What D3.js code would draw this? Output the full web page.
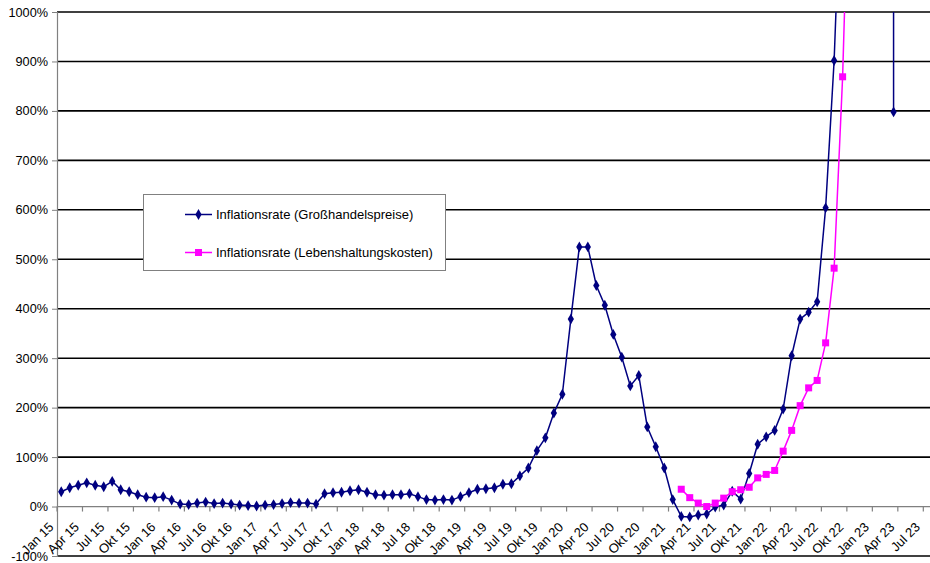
<!DOCTYPE html>
<html>
<head>
<meta charset="utf-8">
<script src="https://cdn.jsdelivr.net/npm/d3@7/dist/d3.min.js"></script>
<style>
  html, body { margin: 0; padding: 0; background: #fff; }
  svg { display: block; font-family: "Liberation Sans", Arial, sans-serif; }
</style>
</head>
<body>
<svg id="chart" width="930" height="563"></svg>
<script>
// ---- data ----
const years = ["15", "16", "17", "18", "19", "20", "21", "22", "23"];
const monthNames = ["Jan", "Feb", "Mär", "Apr", "Mai", "Jun", "Jul", "Aug", "Sep", "Okt", "Nov", "Dez"];
const lastMonthIndex = 6; // axis runs to Jul 23

const tickLabels = [
  "Jan 15", "Apr 15", "Jul 15", "Okt 15", "Jan 16", "Apr 16", "Jul 16", "Okt 16",
  "Jan 17", "Apr 17", "Jul 17", "Okt 17", "Jan 18", "Apr 18", "Jul 18", "Okt 18",
  "Jan 19", "Apr 19", "Jul 19", "Okt 19", "Jan 20", "Apr 20", "Jul 20", "Okt 20",
  "Jan 21", "Apr 21", "Jul 21", "Okt 21", "Jan 22", "Apr 22", "Jul 22", "Okt 22",
  "Jan 23", "Apr 23", "Jul 23"
];

const yTicks = [-100, 0, 100, 200, 300, 400, 500, 600, 700, 800, 900, 1000];

// Inflationsrate (Großhandelspreise), % – from Jan 15
const wholesale = [
  30, 38, 43, 48, 43, 40, 51, 34, 30, 24, 19, 18,          // 1915
  20, 13, 5, 4, 7, 9, 6, 7, 5, 3, 2, 1,                    // 1916
  3, 4, 6, 8, 7, 7, 5, 26, 28, 29, 32, 34,                 // 1917
  29, 24, 23, 24, 24, 26, 20, 14, 13, 14, 13, 20,          // 1918
  28, 35, 36, 38, 45, 46, 62, 78, 113, 139, 189, 227,      // 1919
  379, 525, 525, 447, 407, 348, 302, 244, 265, 161, 121, 78, // 1920
  14, -20, -21, -17, -15, -1, 3, 31, 15, 67, 126, 141,     // 1921
  154, 197, 305, 379, 393, 414, 604, 902, 1360, 2000, 3500, 6000, // 1922
  15000, 100000, 798                                       // 1923
];

// Inflationsrate (Lebenshaltungskosten), % – from Feb 21
const livingStart = "Feb 21";
const living = [
  35, 18, 7, 0, 7, 17, 30, 34, 39, 58, 65,                  // Feb–Dez 1921
  73, 112, 154, 204, 240, 255, 331, 482, 869, 1460          // Jan–Okt 1922
];

// ---- categories ----
const categories = [];
years.forEach((yy, yi) => {
  monthNames.forEach((m, mi) => {
    if (yi === years.length - 1 && mi > lastMonthIndex) return;
    categories.push(m + " " + yy);
  });
});

// ---- layout ----
const svg = d3.select("#chart");
const pLeft = 57, pRight = 931.8, pTop = 12, pBottom = 556;
const fontSize = 13;

const x = d3.scaleBand().domain(categories).range([pLeft, pRight]).padding(0);
const y = d3.scaleLinear().domain([-100, 1000]).range([pBottom, pTop]);
const cx = d => x(d) + x.bandwidth() / 2;

svg.append("defs").append("clipPath").attr("id", "plotclip")
  .append("rect").attr("x", pLeft).attr("y", pTop)
  .attr("width", pRight - pLeft).attr("height", pBottom - pTop);

// gridlines
svg.append("g").selectAll("line")
  .data(yTicks.filter(v => v !== 0))
  .join("line")
  .attr("x1", pLeft).attr("x2", pRight)
  .attr("y1", d => y(d)).attr("y2", d => y(d))
  .attr("stroke", "#000").attr("stroke-width", 1.6);

// y axis
const yAxis = svg.append("g")
  .attr("transform", `translate(${pLeft},0)`)
  .call(d3.axisLeft(y).tickValues(yTicks).tickFormat(d => d + "%").tickSize(5).tickPadding(4));
yAxis.select(".domain").attr("stroke", "#808080").attr("stroke-width", 1.2);
yAxis.selectAll(".tick line").attr("stroke", "#808080");
yAxis.selectAll("text").attr("font-size", 12.7).attr("fill", "#000")
  .attr("font-family", "'Liberation Sans', Arial, sans-serif");

// x axis (at 0%)
const y0 = y(0);
const xg = svg.append("g");
xg.append("line").attr("x1", pLeft).attr("x2", pRight).attr("y1", y0).attr("y2", y0)
  .attr("stroke", "#808080").attr("stroke-width", 1.2);
xg.selectAll("line.tk").data(tickLabels).join("line").attr("class", "tk")
  .attr("x1", d => x(d)).attr("x2", d => x(d))
  .attr("y1", y0).attr("y2", y0 + 5)
  .attr("stroke", "#808080").attr("stroke-width", 1.2);
xg.selectAll("text").data(tickLabels).join("text")
  .attr("transform", d => `translate(${cx(d) - 10},${y0 + 18}) rotate(-45)`)
  .attr("text-anchor", "end").attr("dy", "0.35em")
  .attr("font-size", fontSize).attr("fill", "#000")
  .text(d => d);

// series
const blue = "#000080", pink = "#FF00FF";
const wholesaleData = wholesale.map((v, i) => ({ c: categories[i], v }));
const livingOffset = categories.indexOf(livingStart);
const livingData = living.map((v, i) => ({ c: categories[livingOffset + i], v }));

const line = d3.line().x(d => cx(d.c)).y(d => y(d.v));
const plot = svg.append("g").attr("clip-path", "url(#plotclip)");

plot.append("path").datum(wholesaleData).attr("d", line)
  .attr("fill", "none").attr("stroke", blue).attr("stroke-width", 1.5);
plot.append("path").datum(livingData).attr("d", line)
  .attr("fill", "none").attr("stroke", pink).attr("stroke-width", 1.5);

const diamond = d3.symbol().type(d3.symbolDiamond).size(34);
plot.selectAll("path.dm").data(wholesaleData.filter(d => d.v <= 1000)).join("path").attr("class", "dm")
  .attr("d", diamond)
  .attr("transform", d => `translate(${cx(d.c)},${y(d.v)})`)
  .attr("fill", blue);
plot.selectAll("rect.sq").data(livingData.filter(d => d.v <= 1000)).join("rect").attr("class", "sq")
  .attr("x", d => cx(d.c) - 3.5).attr("y", d => y(d.v) - 3.5)
  .attr("width", 7).attr("height", 7)
  .attr("fill", pink);

// legend
const lg = svg.append("g");
lg.append("rect").attr("x", 143.5).attr("y", 194.5).attr("width", 302).attr("height", 76)
  .attr("fill", "#fff").attr("stroke", "#808080").attr("stroke-width", 1);
const legendItems = [
  { label: "Inflationsrate (Großhandelspreise)", color: blue, shape: "diamond", yy: 214.5 },
  { label: "Inflationsrate (Lebenshaltungskosten)", color: pink, shape: "square", yy: 252.5 }
];
legendItems.forEach(it => {
  lg.append("line").attr("x1", 185).attr("x2", 212).attr("y1", it.yy).attr("y2", it.yy)
    .attr("stroke", it.color).attr("stroke-width", 1.5);
  if (it.shape === "diamond") {
    lg.append("path").attr("d", diamond).attr("transform", `translate(198.5,${it.yy})`).attr("fill", it.color);
  } else {
    lg.append("rect").attr("x", 195).attr("y", it.yy - 3.5).attr("width", 7).attr("height", 7).attr("fill", it.color);
  }
  lg.append("text").attr("x", 216).attr("y", it.yy).attr("dy", "0.35em")
    .attr("font-size", fontSize).attr("fill", "#000").text(it.label);
});
</script>
</body>
</html>
